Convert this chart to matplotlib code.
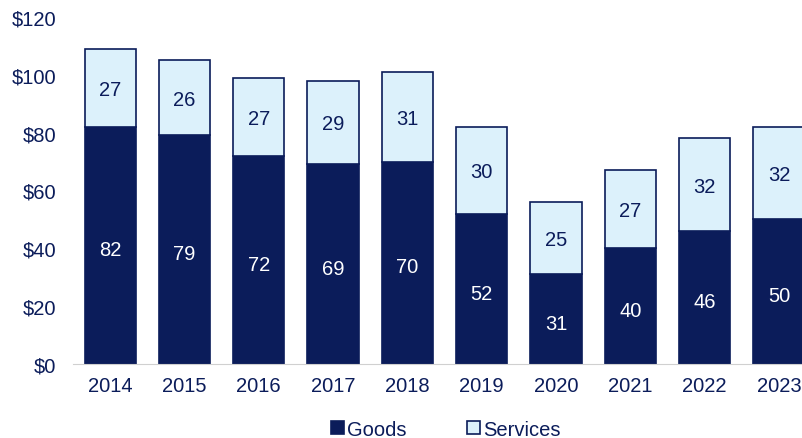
import matplotlib.pyplot as plt
import numpy as np

years = ["2014", "2015", "2016", "2017", "2018", "2019", "2020", "2021", "2022", "2023"]
goods = [82, 79, 72, 69, 70, 52, 31, 40, 46, 50]
services = [27, 26, 27, 29, 31, 30, 25, 27, 32, 32]

navy = "#0b1c5a"
light = "#dcf1fb"
plt.rcParams['font.family'] = ['Liberation Sans', 'DejaVu Sans']

fig = plt.figure(figsize=(8.02, 4.39), dpi=100)
ax = fig.add_axes([0.091, 0.169, 0.909, 0.79])

x = np.arange(len(years))
w = 0.69
ax.bar(x, goods, w, color=navy, edgecolor=navy, linewidth=1.2, label="Goods")
ax.bar(x, services, w, bottom=goods, color=light, edgecolor=navy, linewidth=1.2, label="Services")

for i in range(len(years)):
    ax.text(x[i], goods[i] / 2 - 1.5, str(goods[i]), ha="center", va="center",
            color="white", fontsize=14.5)
    ax.text(x[i], goods[i] + services[i] / 2 - 0.5, str(services[i]), ha="center",
            va="center", color=navy, fontsize=14.5)

ax.set_xlim(-0.5, 9.31)
ax.set_ylim(0, 120)
ax.set_yticks(range(0, 121, 20))
ax.set_yticklabels(["$%d" % v for v in range(0, 121, 20)])
ax.set_xticks(x)
ax.set_xticklabels(years)
ax.tick_params(axis="both", length=0, labelsize=14.5, colors=navy, pad=9)
ax.tick_params(axis="y", pad=12)
for s in ["top", "right", "left"]:
    ax.spines[s].set_visible(False)
ax.spines["bottom"].set_color("#d0d0d0")

fig.legend(loc="center", bbox_to_anchor=(0.556, 0.02), ncol=2, frameon=False,
           fontsize=14.5, handlelength=0.65, handleheight=0.65, handletextpad=0.15,
           columnspacing=3.0, labelcolor=navy)

fig.savefig("out.png", dpi=100)
